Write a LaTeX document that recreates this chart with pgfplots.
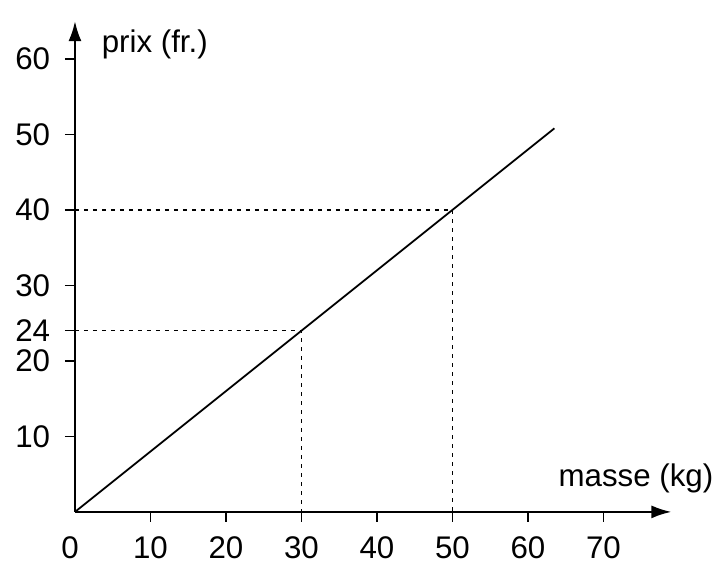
\documentclass[border=0pt]{standalone}
\usepackage{pgfplots}
\pgfplotsset{compat=1.18}
\usepackage{fontspec}
\setmainfont{Liberation Sans}
\usetikzlibrary{arrows.meta}
\begin{document}
\fontsize{15.7}{19}\selectfont
\begin{tikzpicture}[font=\fontsize{15.7}{19}\selectfont]
\begin{axis}[
  x=3.775bp, y=3.775bp,
  xmin=0, xmax=79, ymin=0, ymax=65,
  axis x line=bottom, axis y line=left,
  axis line style={line width=1.1bp, -{Latex[length=10bp,width=6.5bp]}},
  xtick={10,20,30,40,50,60,70},
  xticklabels={10,20,30,40,50,60,70},
  ytick={10,20,24,30,40,50,60},
  yticklabels={10,20,24,30,40,50,60},
  tick align=outside,
  major tick length=5bp,
  tick style={black, line width=0.7bp},
  tick label style={font=\fontsize{15.7}{19}\selectfont},
  xticklabel style={anchor=base, yshift=-18.5bp},
  yticklabel style={xshift=-2bp},
  clip=false,
]
\addplot[black, line width=0.9bp] coordinates {(0,0) (63.5,50.8)};
\addplot[black, line width=0.7bp, dash pattern=on 2bp off 2.5bp] coordinates {(0,24) (30,24) (30,0)};
\addplot[black, line width=0.7bp, dash pattern=on 2bp off 2.5bp] coordinates {(0,40) (50,40) (50,0)};
\node[anchor=base west, inner sep=0pt] at (axis cs:3.5,60.9) {prix (fr.)};
\node[anchor=base west, inner sep=0pt] at (axis cs:64,3.3) {masse (kg)};
\node[anchor=base, inner sep=0pt] at (axis cs:-0.66,-6.2) {0};
\coordinate (bl) at (axis cs:-9.93,-6.75);
\coordinate (tr) at (axis cs:84.77,67.8);
\end{axis}
\pgfresetboundingbox
\path[use as bounding box] (bl) rectangle (tr);
\end{tikzpicture}
\end{document}
